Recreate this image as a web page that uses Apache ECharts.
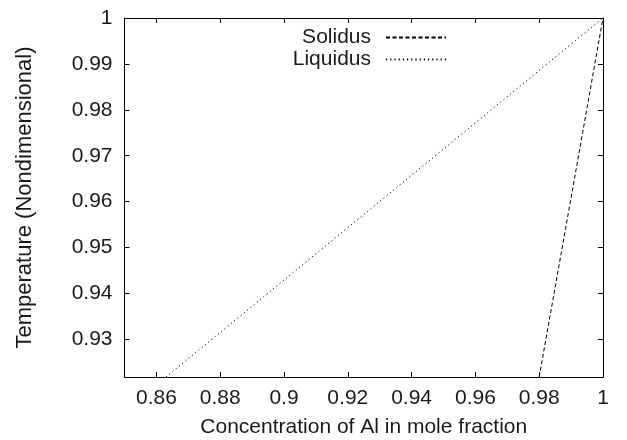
<!DOCTYPE html>
<html><head><meta charset="utf-8">
<script src="https://cdn.jsdelivr.net/npm/echarts@6/dist/echarts.min.js"></script>
<style>html,body{margin:0;padding:0;background:#fff}#c{width:627px;height:440px}</style>
</head><body><div id="c"></div>
<script>
const seriesNames = ['Solidus', 'Liquidus'];
const solidusX = [0.98, 1.0];
const solidusY = [0.9218, 1.0];
const liquidusX = [0.863, 1.0];
const liquidusY = [0.9218, 1.0];
const xTitle = 'Concentration of Al in mole fraction';
const yTitle = 'Temperature (Nondimensional)';

const font = 'Liberation Sans, Arial, Helvetica, sans-serif';
const txt = '#1a1a1a';
function fmtX(v){ if(Math.abs(v*50-Math.round(v*50))>1e-6) return ''; return String(+v.toFixed(2)); }
function fmtY(v){ if(Math.abs(v*100-Math.round(v*100))>1e-6) return ''; return String(+v.toFixed(2)); }
const axisLine = {show:true, lineStyle:{color:'#000', width:1}};
const tick = {show:true, inside:true, length:5, lineStyle:{color:'#000', width:1}};
const chart = echarts.init(document.getElementById('c'), null, {renderer:'canvas'});
chart.setOption({
  animation:false,
  backgroundColor:'#fff',
  grid:{left:124.5, right:24, top:18, bottom:63, containLabel:false, outerBoundsMode:'none'},
  legend:{
    orient:'vertical', right:180, top:27, align:'right', padding:0,
    itemWidth:60, itemHeight:12, itemGap:1,
    itemStyle:{opacity:0},
    textStyle:{fontFamily:font, fontSize:21, color:txt, lineHeight:20, padding:[0,10,0,0]},
    data:seriesNames
  },
  xAxis:[{
    type:'value', min:0.85, max:1.0, splitNumber:7,
    axisLine:axisLine, axisTick:tick, splitLine:{show:false},
    axisLabel:{formatter:fmtX, fontFamily:font, fontSize:21, color:txt, margin:11, showMinLabel:false},
    name:xTitle, nameLocation:'middle', nameGap:40,
    nameTextStyle:{fontFamily:font, fontSize:21, color:txt}
  },{
    type:'value', position:'top', min:0.85, max:1.0, splitNumber:7,
    axisLine:axisLine, axisTick:tick, splitLine:{show:false}, axisLabel:{show:false}
  }],
  yAxis:[{
    type:'value', min:0.9218, max:1.0, splitNumber:8,
    axisLine:axisLine, axisTick:tick, splitLine:{show:false},
    axisLabel:{formatter:fmtY, fontFamily:font, fontSize:21, color:txt, margin:12, showMinLabel:false},
    name:yTitle, nameLocation:'middle', nameGap:89, nameRotate:90,
    nameTextStyle:{fontFamily:font, fontSize:22, color:txt}
  },{
    type:'value', position:'right', min:0.9218, max:1.0, splitNumber:8,
    axisLine:axisLine, axisTick:tick, splitLine:{show:false}, axisLabel:{show:false}
  }],
  series:[{
    name:seriesNames[0], type:'line', showSymbol:false, symbol:'none',
    data:solidusX.map((x,i)=>[x, solidusY[i]]),
    lineStyle:{color:'#000', width:1, type:[4,2.5]}, itemStyle:{color:'#000'}
  },{
    name:seriesNames[1], type:'line', showSymbol:false, symbol:'none',
    data:liquidusX.map((x,i)=>[x, liquidusY[i]]),
    lineStyle:{color:'#000', width:1, type:[1.2,3]}, itemStyle:{color:'#000'}
  }]
});
</script></body></html>
